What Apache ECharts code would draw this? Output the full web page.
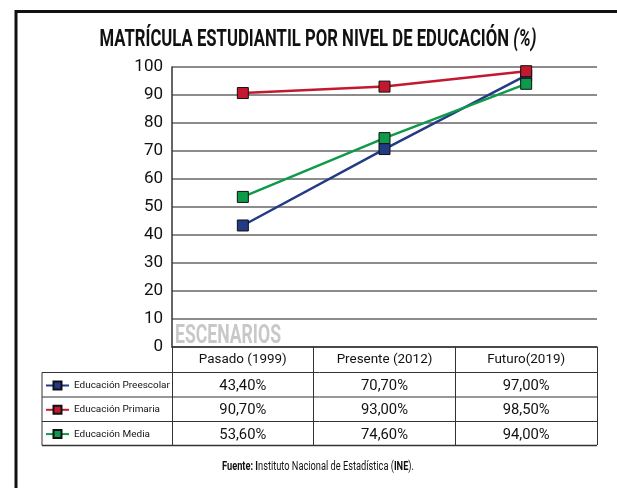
<!DOCTYPE html>
<html>
<head>
<meta charset="utf-8">
<title>Matrícula estudiantil</title>
<script src="https://cdn.jsdelivr.net/npm/echarts@6/dist/echarts.min.js"></script>
<style>
  html, body { margin: 0; padding: 0; background: #fff; }
  #chart { width: 617px; height: 488px; }
</style>
</head>
<body>
<div id="chart"></div>
<script>
// escenarios (categorias del eje x)
var escenarios = ['Pasado (1999)', 'Presente (2012)', 'Futuro(2019)'];
// matricula por nivel, en %
var preescolar = [43.4, 70.7, 97.0];
var primaria = [90.7, 93.0, 98.5];
var media = [53.6, 74.6, 94.0];
var niveles = ['Educación Preescolar', 'Educación Primaria', 'Educación Media'];
var yTicks = [0, 10, 20, 30, 40, 50, 60, 70, 80, 90, 100];

var FONT = 'Roboto, "Noto Sans", sans-serif';
var colores = ['#233b85', '#c3192f', '#0d9a4a'];

// 43.4 -> "43,40%"
function pct(v) {
  return v.toFixed(2).replace('.', ',') + '%';
}

// la fuente original es condensada: medimos para ajustar tamaños/escalas
var ctx = document.createElement('canvas').getContext('2d');
function ancho(texto, size, weight, style) {
  ctx.font = (style || 'normal') + ' ' + (weight || 'normal') + ' ' + size + 'px ' + FONT;
  return ctx.measureText(texto).width;
}
function tamano(texto, objetivo, weight) {
  return +(20 * objetivo / ancho(texto, 20, weight)).toFixed(2);
}

var sizeCab = tamano(escenarios[0], 88);
var sizeVal = tamano(pct(preescolar[0]), 47);
var sizeLey = tamano(niveles[0], 96);

var tituloA = 'MATRÍCULA ESTUDIANTIL POR NIVEL DE EDUCACIÓN ';
var tituloB = '(%)';
var escTitulo = 437 / (ancho(tituloA, 23, 'bold') + ancho(tituloB, 23, 'bold', 'italic'));
var escEsc = 106 / ancho('ESCENARIOS', 25, 'bold');
var escFuente = 192 / (ancho('Fuente: I', 12.5, 'bold') + ancho('nstituto Nacional de Estadística (', 12.5) +
  ancho('INE', 12.5, 'bold') + ancho(').', 12.5));

var chart = echarts.init(document.getElementById('chart'));

var filas = [preescolar, primaria, media];
var offsets = [39.5, 63.5, 88];

// ejes extra para las filas de la tabla
var ejesTabla = filas.map(function (fila, i) {
  return {
    type: 'category',
    gridIndex: 0,
    position: 'bottom',
    offset: offsets[i],
    data: fila.map(pct),
    axisLine: { show: false },
    axisTick: { show: false },
    splitLine: { show: false },
    axisLabel: {
      interval: 0,
      margin: 0,
      verticalAlign: 'middle',
      fontFamily: FONT,
      fontSize: sizeVal,
      color: '#111'
    }
  };
});

var series = filas.map(function (fila, i) {
  return {
    name: niveles[i],
    type: 'line',
    data: fila,
    symbol: 'rect',
    symbolSize: 11,
    lineStyle: { color: colores[i], width: 2.5 },
    itemStyle: { color: colores[i], borderColor: '#111', borderWidth: 1 },
    z: 3 + (i === 1 ? 2 : 0)
  };
});

var lineaH = function (y, x1, x2, w, c) {
  return {
    type: 'line',
    shape: { x1: x1, y1: y, x2: x2, y2: y },
    style: { stroke: c || '#333', lineWidth: w || 1 }
  };
};

var option = {
  animation: false,
  backgroundColor: '#fff',
  textStyle: { fontFamily: FONT },
  grid: { left: 172, right: 20, top: 67, bottom: 141, containLabel: false },
  legend: {
    data: niveles,
    orient: 'vertical',
    left: 45,
    top: 378.5,
    padding: 0,
    itemGap: 10.3,
    itemWidth: 23,
    itemHeight: 10,
    textStyle: { fontFamily: FONT, fontSize: sizeLey, lineHeight: 14, color: '#111' }
  },
  xAxis: [
    {
      type: 'category',
      data: escenarios,
      boundaryGap: true,
      axisLine: { show: true, lineStyle: { color: '#333', width: 1.5 } },
      axisTick: { show: true, interval: 0, length: 98, lineStyle: { color: '#333', width: 1 } },
      splitLine: { show: false },
      axisLabel: {
        interval: 0,
        margin: 13,
        verticalAlign: 'middle',
        fontFamily: FONT,
        fontSize: sizeCab,
        color: '#111'
      }
    }
  ].concat(ejesTabla),
  yAxis: {
    type: 'value',
    min: yTicks[0],
    max: yTicks[yTicks.length - 1],
    interval: 10,
    axisLine: { show: true, lineStyle: { color: '#333', width: 1.5 } },
    axisTick: { show: false },
    splitLine: { show: true, lineStyle: { color: '#666', width: 1.5 } },
    axisLabel: { fontFamily: FONT, fontSize: 17, color: '#111', margin: 9 }
  },
  series: series,
  graphic: [
    // marco
    lineaH(11.5, 15, 617, 3, '#111'),
    { type: 'line', shape: { x1: 16, y1: 10, x2: 16, y2: 488 }, style: { stroke: '#111', lineWidth: 3 } },
    // titulo
    {
      type: 'text',
      x: 318,
      y: 40,
      scaleX: escTitulo,
      style: {
        text: '{b|' + tituloA + '}{i|' + tituloB + '}',
        align: 'center',
        verticalAlign: 'middle',
        rich: {
          b: { fontFamily: FONT, fontWeight: 'bold', fontSize: 23, fill: '#111' },
          i: { fontFamily: FONT, fontWeight: 'bold', fontStyle: 'italic', fontSize: 23, fill: '#111' }
        }
      }
    },
    // ESCENARIOS
    {
      type: 'text',
      x: 175,
      y: 337,
      scaleX: escEsc,
      style: {
        text: 'ESCENARIOS',
        align: 'left',
        verticalAlign: 'middle',
        fontFamily: FONT,
        fontWeight: 'bold',
        fontSize: 25,
        fill: '#c8c8c8'
      }
    },
    // tabla
    lineaH(372.5, 42, 597),
    lineaH(397, 42, 597),
    lineaH(421.5, 42, 597),
    lineaH(445.5, 42, 597, 1.5),
    { type: 'line', shape: { x1: 42, y1: 372.5, x2: 42, y2: 445.5 }, style: { stroke: '#333', lineWidth: 1 } },
    // fuente
    {
      type: 'text',
      x: 318,
      y: 467,
      scaleX: escFuente,
      style: {
        text: '{b|Fuente: I}{n|nstituto Nacional de Estadística (}{b|INE}{n|).}',
        align: 'center',
        verticalAlign: 'middle',
        rich: {
          b: { fontFamily: FONT, fontWeight: 'bold', fontSize: 12.5, fill: '#111' },
          n: { fontFamily: FONT, fontSize: 12.5, fill: '#111' }
        }
      }
    }
  ]
};

chart.setOption(option);
</script>
</body>
</html>
